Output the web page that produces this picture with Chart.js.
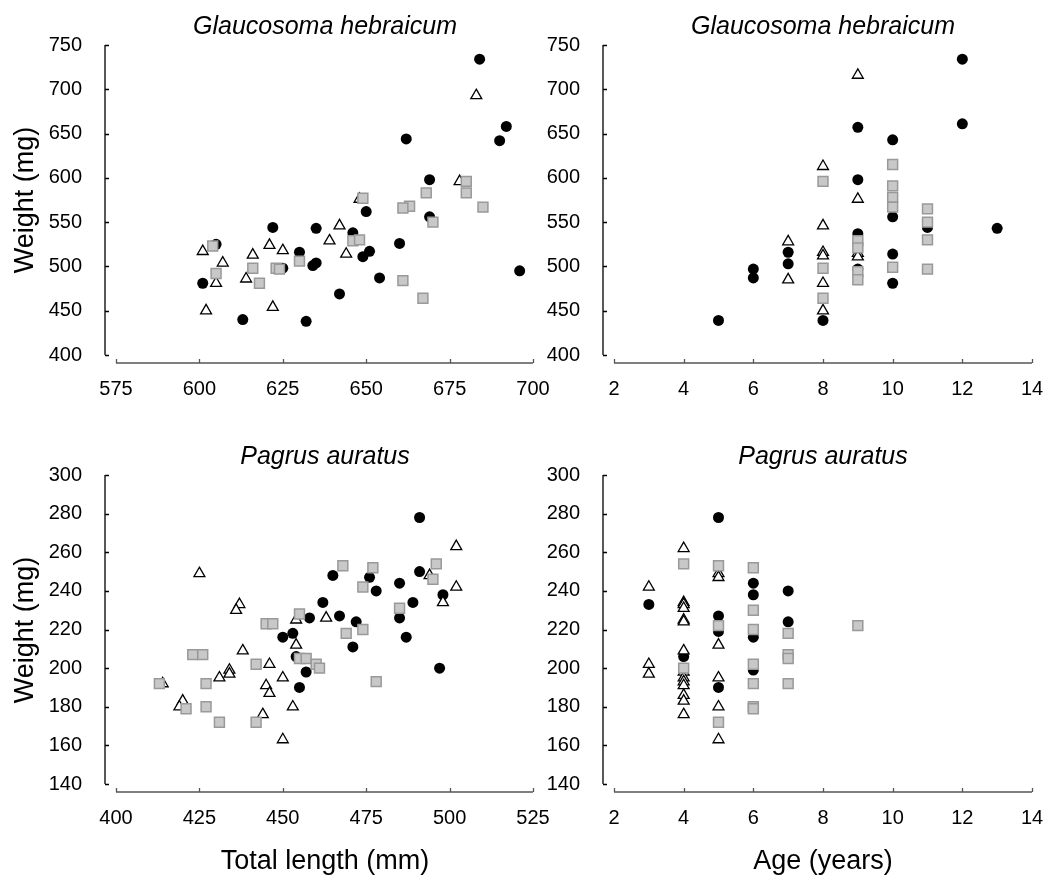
<!DOCTYPE html>
<html>
<head>
<meta charset="utf-8">
<script src="https://cdn.jsdelivr.net/npm/chart.js@4"></script>
<style>
  body { margin: 0; background: #fff; }
  #wrap { position: relative; width: 1048px; height: 877px; font-family: Arial, "Liberation Sans", sans-serif; }
  #wrap canvas { position: absolute; left: 0; top: 0; }
  .lbl { position: absolute; white-space: nowrap; color: #000; transform: translate(-50%, -50%); }
  .ttl { font-size: 25px; font-style: italic; }
  .axt { font-size: 27px; }
  .rot { transform: translate(-50%, -50%) rotate(-90deg); }
</style>
</head>
<body>
<div id="wrap">
  <canvas id="tl" width="1048" height="877"></canvas>
  <canvas id="tr" width="1048" height="877"></canvas>
  <canvas id="bl" width="1048" height="877"></canvas>
  <canvas id="br" width="1048" height="877"></canvas>

  <div class="lbl ttl" style="left:325px; top:25px;">Glaucosoma hebraicum</div>
  <div class="lbl ttl" style="left:823px; top:25px;">Glaucosoma hebraicum</div>
  <div class="lbl ttl" style="left:325px; top:455px;">Pagrus auratus</div>
  <div class="lbl ttl" style="left:823px; top:455px;">Pagrus auratus</div>
  <div class="lbl axt rot" style="left:24px; top:200px;">Weight (mg)</div>
  <div class="lbl axt rot" style="left:24px; top:630px;">Weight (mg)</div>
  <div class="lbl axt" style="left:325px; top:860px;">Total length (mm)</div>
  <div class="lbl axt" style="left:823px; top:860px;">Age (years)</div>
</div>

<script>
// --- tick labels ---
const glWeightTicks = [400, 450, 500, 550, 600, 650, 700, 750];
const paWeightTicks = [140, 160, 180, 200, 220, 240, 260, 280, 300];
const glLengthTicks = [575, 600, 625, 650, 675, 700];
const paLengthTicks = [400, 425, 450, 475, 500, 525];
const ageTicks = [2, 4, 6, 8, 10, 12, 14];

// --- Glaucosoma hebraicum: weight vs total length ---
const glLenCircleX = [622, 635, 605, 630, 625, 634, 635, 601, 613, 632, 684, 692, 690, 662, 669, 650, 669, 646, 651, 649, 660, 654, 642, 696];
const glLenCircleY = [544, 543, 525, 516, 498, 501, 504, 481, 440, 438, 734, 658, 642, 644, 598, 562, 556, 538, 517, 511, 526, 487, 469, 495];
const glLenTriX = [601, 621, 625, 639, 607, 616, 614, 605, 602, 622, 683, 678, 648, 642, 644];
const glLenTriY = [517, 524, 518, 529, 504, 513, 486, 481, 450, 454, 693, 596, 576, 546, 514];
const glLenSqX = [604, 616, 623, 624, 630, 605, 618, 680, 680, 668, 663, 661, 685, 649, 670, 646, 648, 661, 667];
const glLenSqY = [523, 498, 498, 497, 506, 492, 481, 596, 583, 583, 568, 566, 567, 577, 550, 529, 530, 484, 464];

// --- Glaucosoma hebraicum: weight vs age ---
const glAgeCircleX = [5, 6, 6, 7, 7, 8, 9, 9, 9, 9, 10, 10, 10, 10, 11, 12, 12, 13];
const glAgeCircleY = [439, 497, 487, 516, 503, 439, 657, 598, 537, 497, 643, 556, 514, 481, 544, 734, 661, 543];
const glAgeTriX = [7, 7, 8, 8, 8, 8, 8, 8, 9, 9, 9, 9];
const glAgeTriY = [528, 485, 613, 546, 516, 512, 481, 450, 716, 576, 515, 511];
const glAgeSqX = [8, 8, 8, 9, 9, 9, 9, 10, 10, 10, 10, 10, 11, 11, 11, 11];
const glAgeSqY = [596, 498, 464, 529, 521, 494, 485, 615, 591, 578, 567, 499, 565, 550, 530, 497];

// --- Pagrus auratus: weight vs total length ---
const paLenCircleX = [465, 462, 458, 450, 453, 454, 457, 455, 491, 476, 478, 485, 491, 498, 489, 467, 472, 485, 471, 487, 497];
const paLenCircleY = [248, 234, 226, 216, 218, 206, 198, 190, 278, 247, 240, 244, 250, 238, 234, 227, 224, 226, 211, 216, 200];
const paLenTriX = [425, 437, 436, 454, 463, 454, 438, 446, 434, 434, 431, 414, 450, 445, 446, 420, 419, 453, 444, 450, 502, 502, 494, 498];
const paLenTriY = [249, 233, 230, 225, 226, 212, 209, 202, 199, 197, 195, 192, 195, 191, 187, 183, 180, 180, 176, 163, 263, 242, 248, 234];
const paLenSqX = [455, 445, 447, 423, 426, 442, 455, 457, 460, 461, 413, 427, 421, 427, 431, 442, 468, 477, 496, 474, 495, 485, 469, 474, 478];
const paLenSqY = [228, 223, 223, 207, 207, 202, 205, 205, 202, 200, 192, 192, 179, 180, 172, 172, 253, 252, 254, 242, 246, 231, 218, 220, 193];

// --- Pagrus auratus: weight vs age ---
const paAgeCircleX = [3, 4, 5, 5, 5, 5, 6, 6, 6, 6, 7, 7];
const paAgeCircleY = [233, 206, 278, 227, 219, 190, 244, 238, 216, 199, 240, 224];
const paAgeTriX = [3, 3, 3, 4, 4, 4, 4, 4, 4, 4, 4, 4, 4, 4, 4, 4, 4, 5, 5, 5, 5, 5, 5];
const paAgeTriY = [242, 202, 197, 262, 234, 233, 231, 225, 224, 209, 198, 195, 193, 191, 186, 183, 176, 249, 247, 212, 195, 180, 163];
const paAgeSqX = [4, 4, 5, 5, 5, 6, 6, 6, 6, 6, 6, 6, 7, 7, 7, 7, 9];
const paAgeSqY = [254, 200, 253, 222, 172, 252, 230, 220, 202, 192, 180, 179, 218, 207, 205, 192, 222];

const pts = (xs, ys) => xs.map((x, i) => ({ x: x, y: ys[i] }));

const FONT = { family: 'Arial, "Liberation Sans", sans-serif', size: 20 };
const W = 1048, H = 877;
const Y_W = 100, X_H = 60;

// detached axes, drawn just outside the plotting area (SigmaPlot style)
const offsetAxes = {
  id: 'offsetAxes',
  afterDraw(chart) {
    const { ctx, chartArea: a, scales: { x, y } } = chart;
    ctx.save();
    ctx.lineWidth = 1.3;

    const ax = a.left - 11;
    ctx.strokeStyle = '#000';
    ctx.beginPath();
    ctx.moveTo(ax, y.top);
    ctx.lineTo(ax, y.bottom);
    y.ticks.forEach(t => {
      const p = Math.round(y.getPixelForValue(t.value)) + 0.5;
      ctx.moveTo(ax, p);
      ctx.lineTo(ax + 4, p);
    });
    ctx.stroke();

    const ay = a.bottom + 8;
    ctx.strokeStyle = '#555';
    ctx.beginPath();
    ctx.moveTo(x.left, ay);
    ctx.lineTo(x.right, ay);
    x.ticks.forEach(t => {
      const p = Math.round(x.getPixelForValue(t.value)) + 0.5;
      ctx.moveTo(p, ay);
      ctx.lineTo(p, ay - 4);
    });
    ctx.stroke();
    ctx.restore();
  }
};

const makePanel = (id, area, xTicks, yTicks, circles, tris, squares) => {
  new Chart(document.getElementById(id), {
    type: 'scatter',
    data: {
      datasets: [
        { // grey squares sit on top
          data: squares,
          pointStyle: 'rect',
          pointRadius: 7,
          backgroundColor: '#c8c8c8',
          borderColor: '#999',
          borderWidth: 1.5
        },
        {
          data: tris,
          pointStyle: 'triangle',
          pointRadius: 6.3,
          backgroundColor: '#fff',
          borderColor: '#000',
          borderWidth: 1.3
        },
        {
          data: circles,
          pointStyle: 'circle',
          pointRadius: 5.5,
          backgroundColor: '#000',
          borderColor: '#000',
          borderWidth: 0
        }
      ]
    },
    options: {
      responsive: false,
      animation: false,
      clip: false,
      layout: {
        autoPadding: false,
        padding: {
          left: area.left - Y_W,
          right: W - area.right,
          top: area.top,
          bottom: H - area.bottom - X_H
        }
      },
      plugins: { legend: { display: false }, tooltip: { enabled: false } },
      scales: {
        x: {
          type: 'linear',
          min: xTicks[0],
          max: xTicks[xTicks.length - 1],
          afterBuildTicks: s => { s.ticks = xTicks.map(v => ({ value: v })); },
          afterFit: s => { s.height = X_H; s.paddingLeft = 0; s.paddingRight = 0; },
          grid: { display: false },
          border: { display: false },
          ticks: { color: '#000', font: FONT, padding: 14, maxRotation: 0 }
        },
        y: {
          type: 'linear',
          min: yTicks[0],
          max: yTicks[yTicks.length - 1],
          afterBuildTicks: s => { s.ticks = yTicks.map(v => ({ value: v })); },
          afterFit: s => { s.width = Y_W; s.paddingTop = 0; s.paddingBottom = 0; },
          grid: { display: false },
          border: { display: false },
          ticks: { color: '#000', font: FONT, padding: 26 }
        }
      }
    },
    plugins: [offsetAxes]
  });
};

makePanel('tl', { left: 116, right: 533, top: 45, bottom: 355 }, glLengthTicks, glWeightTicks,
  pts(glLenCircleX, glLenCircleY), pts(glLenTriX, glLenTriY), pts(glLenSqX, glLenSqY));
makePanel('tr', { left: 614, right: 1032, top: 45, bottom: 355 }, ageTicks, glWeightTicks,
  pts(glAgeCircleX, glAgeCircleY), pts(glAgeTriX, glAgeTriY), pts(glAgeSqX, glAgeSqY));
makePanel('bl', { left: 116, right: 533, top: 475, bottom: 784 }, paLengthTicks, paWeightTicks,
  pts(paLenCircleX, paLenCircleY), pts(paLenTriX, paLenTriY), pts(paLenSqX, paLenSqY));
makePanel('br', { left: 614, right: 1032, top: 475, bottom: 784 }, ageTicks, paWeightTicks,
  pts(paAgeCircleX, paAgeCircleY), pts(paAgeTriX, paAgeTriY), pts(paAgeSqX, paAgeSqY));
</script>
</body>
</html>
